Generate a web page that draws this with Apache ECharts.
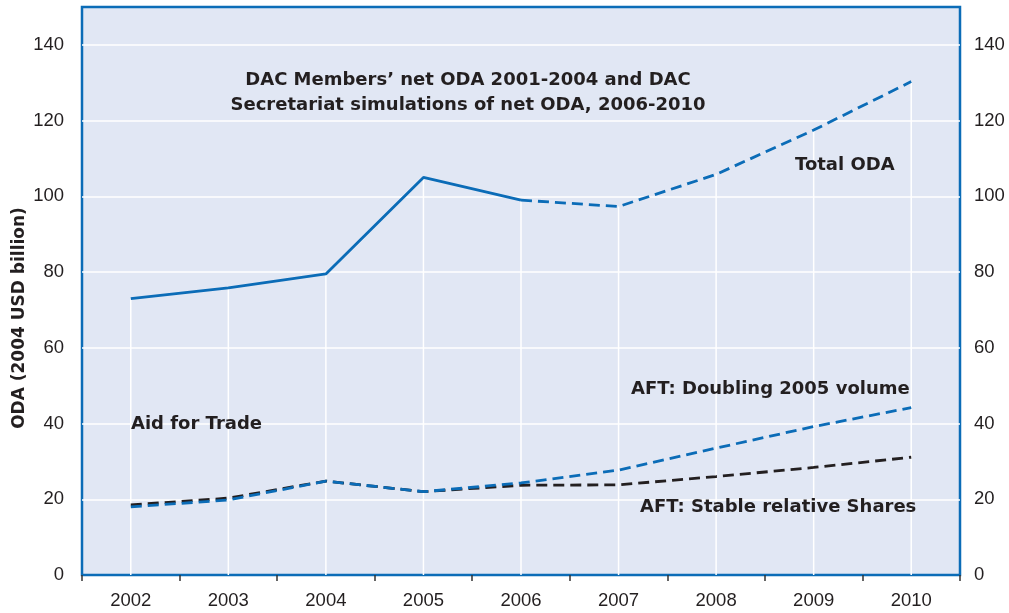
<!DOCTYPE html>
<html>
<head>
<meta charset="utf-8">
<script src="https://cdn.jsdelivr.net/npm/echarts@6/dist/echarts.min.js"></script>
<style>
html,body{margin:0;padding:0;background:#fff;}
#c{width:1009px;height:613px;}
</style>
</head>
<body>
<div id="c"></div>
<script>
var years = ['2002','2003','2004','2005','2006','2007','2008','2009','2010'];
var totalOda = [73, 75.8, 79.5, 105, 99, 97.3, 105.8, 117.5, 130.3];
var totalOdaActual = [73, 75.8, 79.5, 105, 99, null, null, null, null];
var totalOdaSim = [null, null, null, null, 99, 97.3, 105.8, 117.5, 130.3];
var aftDoubling = [18, 19.8, 24.8, 22, 24.3, 27.7, 33.5, 39.2, 44.2];
var aftStable = [18.5, 20.3, 24.8, 22, 23.7, 23.8, 26, 28.4, 31.1];
var yTicks = {min: 0, max: 150, interval: 20};

var BLUE = '#0b6cb7';
var TXT = '#231f20';
var BOLD = 'DejaVu Sans';
var REG = '"Liberation Sans", Arial, sans-serif';

var chart = echarts.init(document.getElementById('c'), null, {renderer: 'canvas'});
var yLabel = {color: TXT, fontSize: 18.5, fontFamily: REG, showMaxLabel: false};
function label(text, x, y, align, size, extra) {
  return Object.assign({type: 'text', x: x, y: y, z: 100,
    style: {text: text, font: 'bold ' + size + 'px "' + BOLD + '"', fill: TXT, align: align, verticalAlign: 'middle'}}, extra || {});
}
chart.setOption({
  animation: false,
  backgroundColor: '#ffffff',
  grid: {left: 82, right: 49, top: 7, bottom: 38, show: true,
         backgroundColor: '#e1e7f4', borderColor: BLUE, borderWidth: 2.5},
  xAxis: {
    type: 'category', data: years, boundaryGap: true, offset: 3,
    axisLine: {show: false},
    axisTick: {show: true, length: 6, lineStyle: {color: '#333', width: 1.5}},
    axisLabel: {color: TXT, fontSize: 18.5, fontFamily: REG, margin: 13},
    splitLine: {show: false}
  },
  yAxis: [{
    type: 'value', min: yTicks.min, max: yTicks.max, interval: yTicks.interval,
    axisLine: {show: false}, axisTick: {show: false},
    axisLabel: Object.assign({margin: 18}, yLabel),
    splitLine: {show: true, showMinLine: false, showMaxLine: false, lineStyle: {color: '#ffffff', width: 1.5}}
  }, {
    type: 'value', position: 'right', min: yTicks.min, max: yTicks.max, interval: yTicks.interval,
    axisLine: {show: false}, axisTick: {show: false},
    axisLabel: Object.assign({margin: 14}, yLabel),
    splitLine: {show: false}
  }],
  series: [
    {type: 'bar', data: totalOda, barWidth: 1.5, silent: true, z: 1,
     itemStyle: {color: '#ffffff'}},
    {type: 'line', data: totalOdaActual, symbol: 'none', z: 3,
     lineStyle: {color: BLUE, width: 2.8}},
    {type: 'line', data: totalOdaSim, symbol: 'none', z: 3,
     lineStyle: {color: BLUE, width: 2.8, type: [11, 6]}},
    {type: 'line', data: aftStable, symbol: 'none', z: 3,
     lineStyle: {color: TXT, width: 2.8, type: [11, 6]}},
    {type: 'line', data: aftDoubling, symbol: 'none', z: 4,
     lineStyle: {color: BLUE, width: 2.8, type: [11, 6]}}
  ],
  graphic: [
    label('DAC Members\u2019 net ODA 2001-2004 and DAC', 468, 80, 'center', 18),
    label('Secretariat simulations of net ODA, 2006-2010', 468, 105, 'center', 18),
    label('Total ODA', 795, 165, 'left', 18),
    label('AFT: Doubling 2005 volume', 631, 389, 'left', 18),
    label('AFT: Stable relative Shares', 640, 507, 'left', 18),
    label('Aid for Trade', 131, 424, 'left', 18),
    label('ODA (2004 USD billion)', 20, 318, 'center', 17, {rotation: Math.PI / 2})
  ]
});
</script>
</body>
</html>
